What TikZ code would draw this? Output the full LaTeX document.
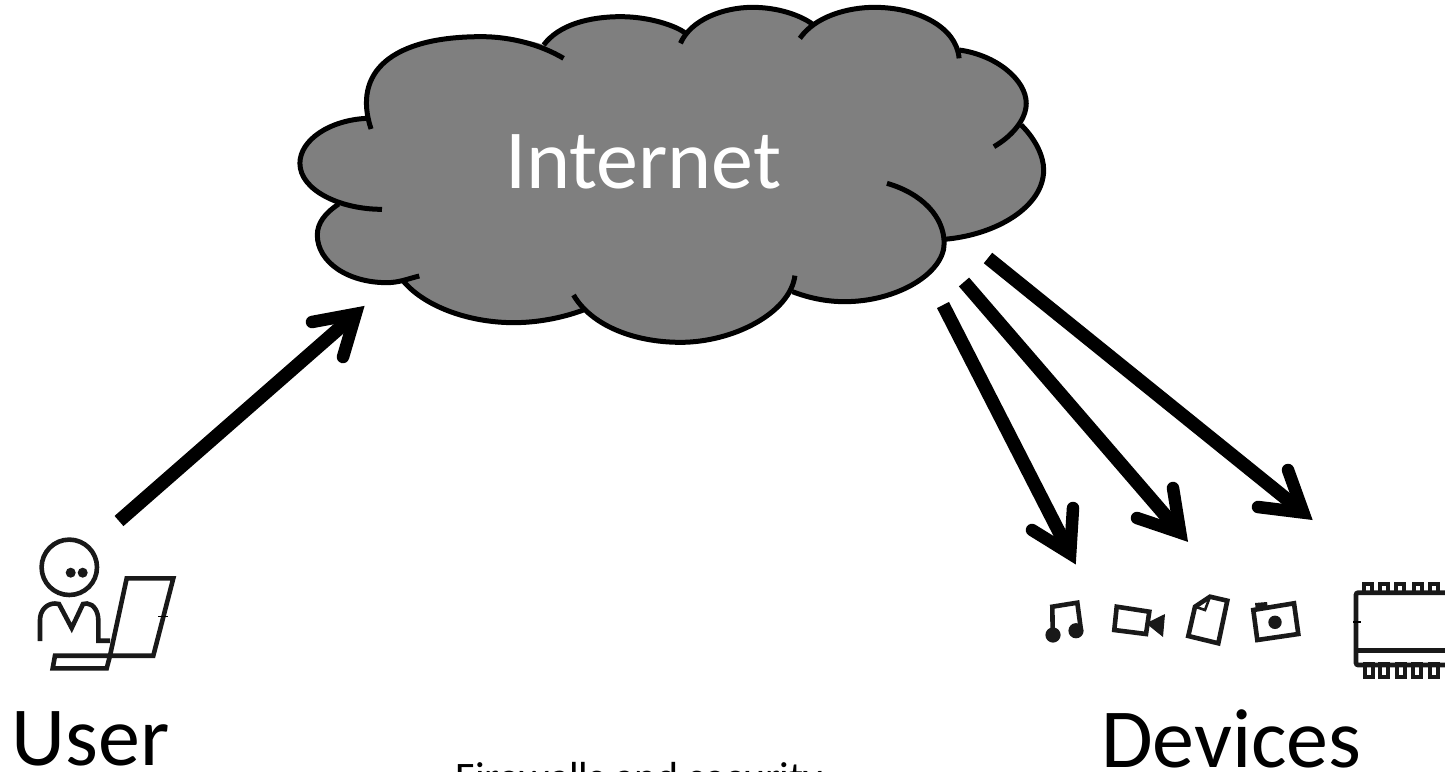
\documentclass[tikz,border=0pt]{standalone}
\usepackage{fontspec}
\setmainfont{Carlito}
\usetikzlibrary{calc}
\definecolor{cloudgray}{RGB}{127,127,127}
\tikzset{
  cloudfill/.style={fill=cloudgray,draw=none},
  cloudline/.style={draw=black,line width=5pt,line cap=butt,line join=round},
  shaft/.style={draw=black,line width=13.5pt,line cap=butt},
  barb/.style={draw=black,line width=12.5pt,line cap=round,line join=miter,miter limit=10},
  icon/.style={draw=black!90,line width=4.6pt,line join=miter},
  pinline/.style={draw=black!90,line width=3.8pt,line join=miter},
  iconfill/.style={fill=black!90,draw=none},
  biglabel/.style={font=\fontsize{84}{84}\selectfont,anchor=base west,inner sep=0pt,outer sep=0pt},
  smalllabel/.style={font=\fontsize{42}{42}\selectfont,anchor=base west,inner sep=0pt,outer sep=0pt},
}
% #1 start, #2 tip, #3 and #4 barb ends, #5 miter offset
\newcommand{\barbarrow}[5]{%
  \draw[shaft] (#1) -- ($(#2)!#5pt!(#1)$);
  \draw[barb] (#3) -- ($(#2)!#5pt!(#1)$) -- (#4);
}
\begin{document}
\begin{tikzpicture}[x=1pt,y=-1pt]
\useasboundingbox (0,0) rectangle (1445,771);
% cloud
\begin{scope}[shift={(280,0)},x=0.4975pt,y=-0.33333pt]
\path[cloudfill] (176,355) .. controls (150,230) and (225,110) .. (405,110) .. controls (450,110) and (500,118) .. (530,135)
 .. controls (560,75) and (620,50) .. (685,50) .. controls (740,50) and (785,75) .. (815,100)
 .. controls (840,50) and (890,22) .. (950,22) .. controls (1000,22) and (1045,45) .. (1070,72)
 .. controls (1100,40) and (1150,22) .. (1195,22) .. controls (1280,22) and (1350,80) .. (1365,150)
 .. controls (1440,165) and (1500,240) .. (1500,310) .. controls (1500,335) and (1495,360) .. (1490,375)
 .. controls (1520,420) and (1535,470) .. (1535,510) .. controls (1535,620) and (1440,705) .. (1335,718)
 .. controls (1335,810) and (1240,905) .. (1135,905) .. controls (1095,905) and (1060,892) .. (1030,875)
 .. controls (995,970) and (900,1027) .. (805,1027) .. controls (720,1027) and (645,985) .. (610,930)
 .. controls (565,955) and (515,968) .. (470,968) .. controls (375,968) and (285,915) .. (245,838)
 .. controls (235,845) and (225,848) .. (215,848) .. controls (135,848) and (75,785) .. (75,705) .. controls (75,670) and (90,640) .. (115,610)
 .. controls (70,580) and (40,540) .. (40,490) .. controls (40,420) and (100,360) .. (175,355) -- cycle;
\draw[cloudline] (183,387) .. controls (145,215) and (225,110) .. (405,110) .. controls (465,110) and (525,135) .. (570,175);
\draw[cloudline] (530,135) .. controls (560,75) and (620,50) .. (685,50) .. controls (745,50) and (800,80) .. (815,100);
\draw[cloudline] (805,130) .. controls (825,60) and (890,22) .. (950,22) .. controls (1000,22) and (1045,45) .. (1070,72);
\draw[cloudline] (1045,115) .. controls (1075,50) and (1140,22) .. (1195,22) .. controls (1280,22) and (1360,80) .. (1365,175);
\draw[cloudline] (1365,150) .. controls (1440,165) and (1500,240) .. (1500,310) .. controls (1500,360) and (1470,410) .. (1435,440);
\draw[cloudline] (1490,375) .. controls (1520,420) and (1535,470) .. (1535,510) .. controls (1535,620) and (1440,705) .. (1335,718);
\draw[cloudline] (1220,550) .. controls (1290,580) and (1335,650) .. (1335,730) .. controls (1335,820) and (1240,905) .. (1135,905) .. controls (1095,905) and (1060,892) .. (1030,875);
\draw[cloudline] (1035,827) .. controls (1025,940) and (910,1027) .. (805,1027) .. controls (710,1027) and (625,975) .. (590,885);
\draw[cloudline] (610,930) .. controls (565,955) and (515,968) .. (470,968) .. controls (375,968) and (285,915) .. (245,838);
\draw[cloudline] (280,828) .. controls (260,835) and (240,848) .. (215,848) .. controls (135,848) and (75,785) .. (75,705) .. controls (75,670) and (90,640) .. (118,612);
\draw[cloudline] (205,628) .. controls (120,628) and (40,570) .. (40,490) .. controls (40,420) and (100,360) .. (175,355);
\end{scope}
\node[biglabel,text=white] (internet) at (505,188) {Internet};
% labels
\node[biglabel] (user) at (12,765) {User};
\node[biglabel] (devices) at (1101,767) {Devices};
\node[smalllabel] (firewalls) at (396,791) {\raisebox{-2pt}{•}\hspace{39pt}Firewalls and security};
% connector ends
\coordinate (uStart) at (119,521); \coordinate (uTip) at (367,304);
\coordinate (uB1) at (312,322); \coordinate (uB2) at (343,357);
\coordinate (aStart) at (943,305); \coordinate (aTip) at (1077,567);
\coordinate (aB1) at (1032,530); \coordinate (aB2) at (1073,508);
\coordinate (bStart) at (964,282); \coordinate (bTip) at (1190,544);
\coordinate (bB1) at (1137,518); \coordinate (bB2) at (1173,488);
\coordinate (cStart) at (988,258); \coordinate (cTip) at (1315,522);
\coordinate (cB1) at (1258,507); \coordinate (cB2) at (1288,470);
\barbarrow{uStart}{uTip}{uB1}{uB2}{15}
\barbarrow{aStart}{aTip}{aB1}{aB2}{15}
\barbarrow{bStart}{bTip}{bB1}{bB2}{15}
\barbarrow{cStart}{cTip}{cB1}{cB2}{15}
% user icon
\draw[icon] (69.3,567.3) circle (27.7);
\path[iconfill] (70.7,572.7) circle (5) (82.7,572.7) circle (5);
\draw[icon] (40,641) -- (40,620) .. controls (40,610) and (47,603.5) .. (55,603.5) -- (59,604) -- (71.7,628) -- (83,604) -- (87,603.5) .. controls (94,604) and (98.3,612) .. (98.3,620) -- (98.3,640.7) -- (110,640.7);
\draw[icon] (126.7,578.3) -- (173.3,578.3) -- (153.3,655.7) -- (110,655.7) -- cycle;
\draw[icon] (55,655.7) -- (110,655.7) -- (106.7,668.3) -- (52.7,668.3) -- cycle;
\draw[draw=black,line width=1.2pt] (158,616.7) -- (168,616.7);
% music
\draw[icon] (1052.7,632) -- (1052.3,606.7) -- (1077.3,602.7) -- (1080.7,628);
\path[iconfill] (1053,635) circle (7.6) (1076,630.7) circle (7.6);
% video
\draw[icon] (1116.7,606.7) -- (1149.3,611.7) -- (1146,634) -- (1114.3,630) -- cycle;
\path[iconfill] (1146,623.3) -- (1165,614) -- (1163,637) -- cycle;
% document
\draw[icon] (1210,596.7) -- (1227.3,600.7) -- (1218.3,643.3) -- (1188.3,636) -- (1195,606.7) -- cycle;
\draw[pinline,line width=2.6pt] (1195,606.7) -- (1205,610) -- (1210,596.7);
% photo
\draw[icon] (1253.3,610) -- (1294,603.3) -- (1298.3,634) -- (1257.3,640) -- cycle;
\path[iconfill] (1255,603) -- (1267,602) -- (1268,609) -- (1256,611) -- cycle;
\path[iconfill] (1275,622.3) circle (6.7);
% chip
\draw[icon,rounded corners=2pt] (1450,592.7) -- (1356,592.7) -- (1356,665) -- (1450,665);
\draw[icon] (1356,650.7) -- (1450,650.7);
\draw[draw=black,line width=1.2pt] (1353,622) -- (1361,622);
\draw[pinline] (1364,592) -- (1364,584) -- (1372,584) -- (1372,592)
  (1380,592) -- (1380,584) -- (1388,584) -- (1388,592)
  (1396,592) -- (1396,584) -- (1404,584) -- (1404,592)
  (1414,592) -- (1414,584) -- (1422,584) -- (1422,592)
  (1430,592) -- (1430,584) -- (1438,584) -- (1438,592);
\draw[pinline] (1365,664) -- (1365,677) -- (1373,677) -- (1373,664) -- cycle
  (1380,664) -- (1380,677) -- (1388,677) -- (1388,664) -- cycle
  (1397,664) -- (1397,677) -- (1405,677) -- (1405,664) -- cycle
  (1413,664) -- (1413,677) -- (1421,677) -- (1421,664) -- cycle
  (1430,664) -- (1430,677) -- (1438,677) -- (1438,664) -- cycle;
\end{tikzpicture}
\end{document}
